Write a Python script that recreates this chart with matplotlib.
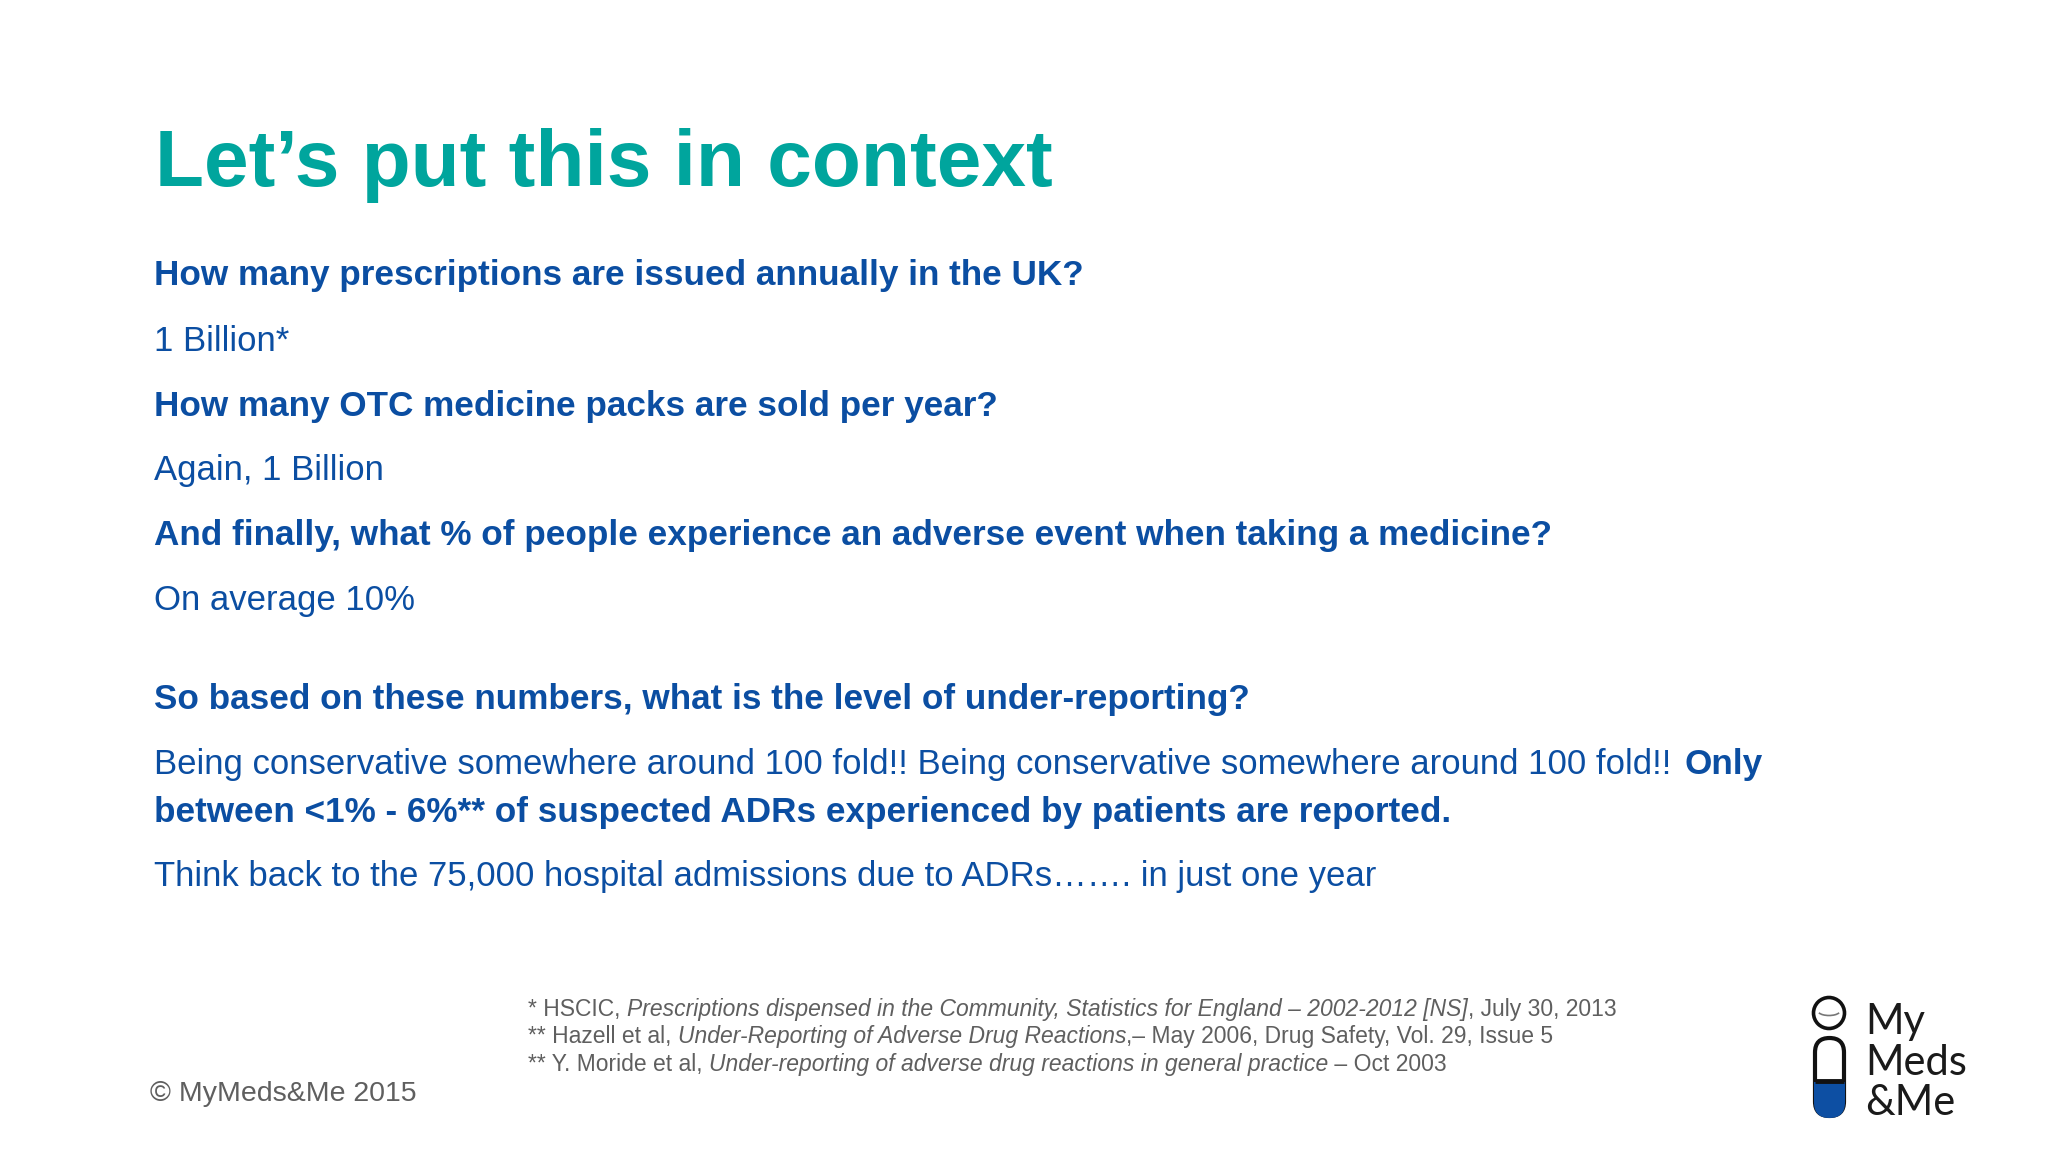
"""
Slide: Let's put this in context
"""

import matplotlib
matplotlib.use('Agg')
import matplotlib.pyplot as plt
from matplotlib.patches import Circle, Arc, FancyBboxPatch, Rectangle

TEAL = '#00a59d'
BLUE = '#0b4ea2'
GREY = '#5f5f5f'

title = 'Let\u2019s put this in context'

# text, bold, baseline y
body_lines = [
    ('How many prescriptions are issued annually in the UK?', True, 285),
    ('1 Billion*', False, 351),
    ('How many OTC medicine packs are sold per year?', True, 416),
    ('Again, 1 Billion', False, 480),
    ('And finally, what % of people experience an adverse event when taking a medicine?', True, 545),
    ('On average 10%', False, 610),
    ('So based on these numbers, what is the level of under-reporting?', True, 709),
    ('between <1% - 6%** of suspected ADRs experienced by patients are reported.', True, 822),
    ('Think back to the 75,000 hospital admissions due to ADRs\u2026\u2026. in just one year', False, 886),
]
mixed_regular = 'Being conservative somewhere around 100 fold!! Being conservative somewhere around 100 fold!! '
mixed_bold = 'Only'

footnotes = [
    [('* HSCIC, ', 'normal'),
     ('Prescriptions dispensed in the Community, Statistics for England \u2013 2002-2012 [NS]', 'italic'),
     (', July 30, 2013', 'normal')],
    [('** Hazell et al, ', 'normal'),
     ('Under-Reporting of Adverse Drug Reactions', 'italic'),
     (',\u2013 May 2006, Drug Safety, Vol. 29, Issue 5', 'normal')],
    [('** Y. Moride et al, ', 'normal'),
     ('Under-reporting of adverse drug reactions in general practice', 'italic'),
     (' \u2013 Oct 2003', 'normal')],
]
footnote_y = [1016, 1043, 1071]
copyright_text = '\u00a9 MyMeds&Me 2015'
logo_words = ['My', 'Meds', '&Me']
logo_y = [1034, 1075, 1115]

plt.rcParams['font.family'] = ['Liberation Sans', 'DejaVu Sans']

fig = plt.figure(figsize=(20.48, 11.52), dpi=100, facecolor='white')
ax = fig.add_axes([0, 0, 1, 1])
ax.set_xlim(0, 2048)
ax.set_ylim(1152, 0)
ax.axis('off')
renderer = fig.canvas.get_renderer()

ax.text(155, 186, title, color=TEAL, fontsize=57.8, fontweight='bold', va='baseline')

for line, bold, y in body_lines:
    ax.text(154, y, line, color=BLUE, fontsize=25.3 if bold else 25,
            fontweight='bold' if bold else 'normal', va='baseline')

ax.text(154, 774, mixed_regular, color=BLUE, fontsize=25, va='baseline')
ax.text(1684, 774, mixed_bold, color=BLUE, fontsize=25.3, fontweight='bold', va='baseline')

# footnotes are made of plain and italic runs, one after the other
for runs, y in zip(footnotes, footnote_y):
    x = 528
    for s, style in runs:
        t = ax.text(x, y, s, color=GREY, fontsize=16.5, fontstyle=style, va='baseline')
        x += t.get_window_extent(renderer).width

ax.text(150, 1101, copyright_text, color=GREY, fontsize=20.5, va='baseline')

# logo
ax.add_patch(Circle((1829, 1013), 15.5, fc='white', ec='#111111', lw=2.6))
ax.add_patch(Arc((1829, 1011), 22, 9, theta1=10, theta2=170, color='#777777', lw=1.2))

body = FancyBboxPatch((1815, 1038), 29, 78, boxstyle='round,pad=0,rounding_size=14.5',
                      fc='white', ec='#111111', lw=3)
ax.add_patch(body)
blue = FancyBboxPatch((1814, 1037), 31, 81, boxstyle='round,pad=0,rounding_size=15.5',
                      fc='#0d4fa3', ec='none', zorder=3)
ax.add_patch(blue)
blue.set_clip_path(Rectangle((1800, 1082), 60, 50, transform=ax.transData))
ax.plot([1815, 1844], [1080.5, 1080.5], color='#111111', lw=3.5, zorder=4, solid_capstyle='butt')

for word, y in zip(logo_words, logo_y):
    ax.text(1865, y, word, color='#1a1a1a', fontsize=30, family='Lato', va='baseline')

fig.savefig('out.png', dpi=100)
